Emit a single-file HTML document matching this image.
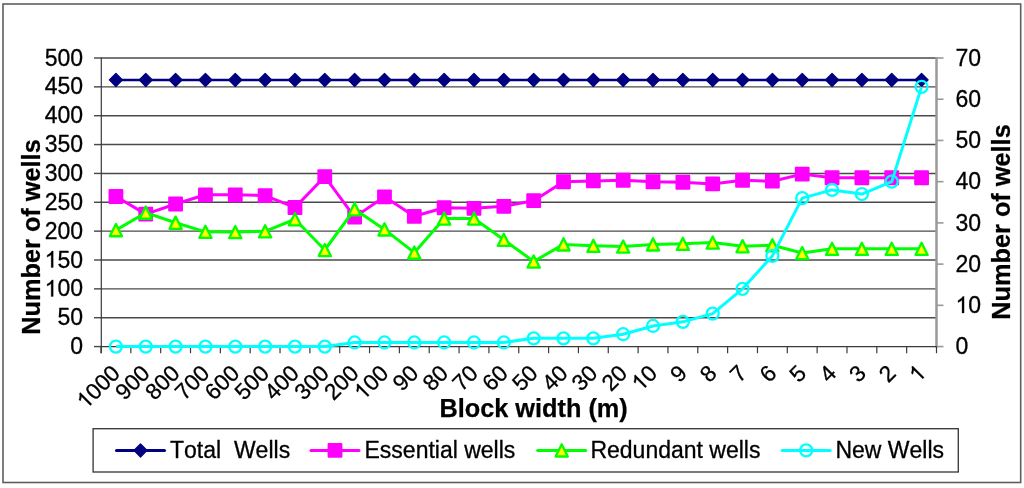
<!DOCTYPE html><html><head><meta charset="utf-8"><style>html,body{margin:0;padding:0;background:#fff;}svg{display:block;will-change:transform}text{font-family:"Liberation Sans",sans-serif;font-kerning:none}</style></head><body>
<svg width="1024" height="488" viewBox="0 0 1024 488">
<rect x="3" y="4" width="1017.7" height="478.5" fill="#fff" stroke="#5e5e5e" stroke-width="1.6"/>
<line x1="94" y1="346.57" x2="101.00" y2="346.57" stroke="#4a4a4a" stroke-width="1.45"/>
<text x="70.21" y="354.17" font-size="23" fill="#000" stroke="#000" stroke-width="0.3">0</text>
<line x1="101.00" y1="317.71" x2="936.50" y2="317.71" stroke="#4a4a4a" stroke-width="1.45"/>
<line x1="94" y1="317.71" x2="101.00" y2="317.71" stroke="#4a4a4a" stroke-width="1.45"/>
<text x="57.42" y="325.31" font-size="23" fill="#000" stroke="#000" stroke-width="0.3">50</text>
<line x1="101.00" y1="288.86" x2="936.50" y2="288.86" stroke="#4a4a4a" stroke-width="1.45"/>
<line x1="94" y1="288.86" x2="101.00" y2="288.86" stroke="#4a4a4a" stroke-width="1.45"/>
<text x="44.63" y="296.46" font-size="23" fill="#000" stroke="#000" stroke-width="0.3">&#8199;00</text><path transform="translate(44.63,296.46) scale(0.01123,-0.01123)" d="M763 0H583V1147Q518 1085 412 1023T223 930V1104Q374 1175 487 1276T647 1472H763V0Z" fill="#000" stroke="#000" stroke-width="26.7"/>
<line x1="101.00" y1="260.00" x2="936.50" y2="260.00" stroke="#4a4a4a" stroke-width="1.45"/>
<line x1="94" y1="260.00" x2="101.00" y2="260.00" stroke="#4a4a4a" stroke-width="1.45"/>
<text x="44.63" y="267.60" font-size="23" fill="#000" stroke="#000" stroke-width="0.3">&#8199;50</text><path transform="translate(44.63,267.60) scale(0.01123,-0.01123)" d="M763 0H583V1147Q518 1085 412 1023T223 930V1104Q374 1175 487 1276T647 1472H763V0Z" fill="#000" stroke="#000" stroke-width="26.7"/>
<line x1="101.00" y1="231.14" x2="936.50" y2="231.14" stroke="#4a4a4a" stroke-width="1.45"/>
<line x1="94" y1="231.14" x2="101.00" y2="231.14" stroke="#4a4a4a" stroke-width="1.45"/>
<text x="44.63" y="238.74" font-size="23" fill="#000" stroke="#000" stroke-width="0.3">200</text>
<line x1="101.00" y1="202.28" x2="936.50" y2="202.28" stroke="#4a4a4a" stroke-width="1.45"/>
<line x1="94" y1="202.28" x2="101.00" y2="202.28" stroke="#4a4a4a" stroke-width="1.45"/>
<text x="44.63" y="209.88" font-size="23" fill="#000" stroke="#000" stroke-width="0.3">250</text>
<line x1="101.00" y1="173.43" x2="936.50" y2="173.43" stroke="#4a4a4a" stroke-width="1.45"/>
<line x1="94" y1="173.43" x2="101.00" y2="173.43" stroke="#4a4a4a" stroke-width="1.45"/>
<text x="44.63" y="181.03" font-size="23" fill="#000" stroke="#000" stroke-width="0.3">300</text>
<line x1="101.00" y1="144.57" x2="936.50" y2="144.57" stroke="#4a4a4a" stroke-width="1.45"/>
<line x1="94" y1="144.57" x2="101.00" y2="144.57" stroke="#4a4a4a" stroke-width="1.45"/>
<text x="44.63" y="152.17" font-size="23" fill="#000" stroke="#000" stroke-width="0.3">350</text>
<line x1="101.00" y1="115.71" x2="936.50" y2="115.71" stroke="#4a4a4a" stroke-width="1.45"/>
<line x1="94" y1="115.71" x2="101.00" y2="115.71" stroke="#4a4a4a" stroke-width="1.45"/>
<text x="44.63" y="123.31" font-size="23" fill="#000" stroke="#000" stroke-width="0.3">400</text>
<line x1="101.00" y1="86.86" x2="936.50" y2="86.86" stroke="#4a4a4a" stroke-width="1.45"/>
<line x1="94" y1="86.86" x2="101.00" y2="86.86" stroke="#4a4a4a" stroke-width="1.45"/>
<text x="44.63" y="94.46" font-size="23" fill="#000" stroke="#000" stroke-width="0.3">450</text>
<line x1="101.00" y1="58.00" x2="936.50" y2="58.00" stroke="#4a4a4a" stroke-width="1.45"/>
<line x1="94" y1="58.00" x2="101.00" y2="58.00" stroke="#4a4a4a" stroke-width="1.45"/>
<text x="44.63" y="65.60" font-size="23" fill="#000" stroke="#000" stroke-width="0.3">500</text>
<line x1="936.50" y1="57.00" x2="936.50" y2="347.57" stroke="#9a9a9a" stroke-width="2.5"/>
<line x1="936.50" y1="346.57" x2="943.5" y2="346.57" stroke="#999" stroke-width="1.6"/>
<text x="955.50" y="354.17" font-size="23" fill="#000" stroke="#000" stroke-width="0.3">0</text>
<line x1="936.50" y1="305.35" x2="943.5" y2="305.35" stroke="#999" stroke-width="1.6"/>
<text x="955.50" y="312.95" font-size="23" fill="#000" stroke="#000" stroke-width="0.3">&#8199;0</text><path transform="translate(955.50,312.95) scale(0.01123,-0.01123)" d="M763 0H583V1147Q518 1085 412 1023T223 930V1104Q374 1175 487 1276T647 1472H763V0Z" fill="#000" stroke="#000" stroke-width="26.7"/>
<line x1="936.50" y1="264.12" x2="943.5" y2="264.12" stroke="#999" stroke-width="1.6"/>
<text x="955.50" y="271.72" font-size="23" fill="#000" stroke="#000" stroke-width="0.3">20</text>
<line x1="936.50" y1="222.90" x2="943.5" y2="222.90" stroke="#999" stroke-width="1.6"/>
<text x="955.50" y="230.50" font-size="23" fill="#000" stroke="#000" stroke-width="0.3">30</text>
<line x1="936.50" y1="181.67" x2="943.5" y2="181.67" stroke="#999" stroke-width="1.6"/>
<text x="955.50" y="189.27" font-size="23" fill="#000" stroke="#000" stroke-width="0.3">40</text>
<line x1="936.50" y1="140.45" x2="943.5" y2="140.45" stroke="#999" stroke-width="1.6"/>
<text x="955.50" y="148.05" font-size="23" fill="#000" stroke="#000" stroke-width="0.3">50</text>
<line x1="936.50" y1="99.22" x2="943.5" y2="99.22" stroke="#999" stroke-width="1.6"/>
<text x="955.50" y="106.82" font-size="23" fill="#000" stroke="#000" stroke-width="0.3">60</text>
<line x1="936.50" y1="58.00" x2="943.5" y2="58.00" stroke="#999" stroke-width="1.6"/>
<text x="955.50" y="65.60" font-size="23" fill="#000" stroke="#000" stroke-width="0.3">70</text>
<line x1="101.3" y1="57.4" x2="101.3" y2="353.2" stroke="#3a3a3a" stroke-width="1.2"/>
<line x1="101" y1="346.57" x2="936.50" y2="346.57" stroke="#3a3a3a" stroke-width="1.2"/>
<line x1="101.00" y1="346.57" x2="101.00" y2="353.2" stroke="#3a3a3a" stroke-width="1.2"/>
<line x1="130.84" y1="346.57" x2="130.84" y2="353.2" stroke="#3a3a3a" stroke-width="1.2"/>
<line x1="160.68" y1="346.57" x2="160.68" y2="353.2" stroke="#3a3a3a" stroke-width="1.2"/>
<line x1="190.52" y1="346.57" x2="190.52" y2="353.2" stroke="#3a3a3a" stroke-width="1.2"/>
<line x1="220.36" y1="346.57" x2="220.36" y2="353.2" stroke="#3a3a3a" stroke-width="1.2"/>
<line x1="250.20" y1="346.57" x2="250.20" y2="353.2" stroke="#3a3a3a" stroke-width="1.2"/>
<line x1="280.04" y1="346.57" x2="280.04" y2="353.2" stroke="#3a3a3a" stroke-width="1.2"/>
<line x1="309.88" y1="346.57" x2="309.88" y2="353.2" stroke="#3a3a3a" stroke-width="1.2"/>
<line x1="339.71" y1="346.57" x2="339.71" y2="353.2" stroke="#3a3a3a" stroke-width="1.2"/>
<line x1="369.55" y1="346.57" x2="369.55" y2="353.2" stroke="#3a3a3a" stroke-width="1.2"/>
<line x1="399.39" y1="346.57" x2="399.39" y2="353.2" stroke="#3a3a3a" stroke-width="1.2"/>
<line x1="429.23" y1="346.57" x2="429.23" y2="353.2" stroke="#3a3a3a" stroke-width="1.2"/>
<line x1="459.07" y1="346.57" x2="459.07" y2="353.2" stroke="#3a3a3a" stroke-width="1.2"/>
<line x1="488.91" y1="346.57" x2="488.91" y2="353.2" stroke="#3a3a3a" stroke-width="1.2"/>
<line x1="518.75" y1="346.57" x2="518.75" y2="353.2" stroke="#3a3a3a" stroke-width="1.2"/>
<line x1="548.59" y1="346.57" x2="548.59" y2="353.2" stroke="#3a3a3a" stroke-width="1.2"/>
<line x1="578.43" y1="346.57" x2="578.43" y2="353.2" stroke="#3a3a3a" stroke-width="1.2"/>
<line x1="608.27" y1="346.57" x2="608.27" y2="353.2" stroke="#3a3a3a" stroke-width="1.2"/>
<line x1="638.11" y1="346.57" x2="638.11" y2="353.2" stroke="#3a3a3a" stroke-width="1.2"/>
<line x1="667.95" y1="346.57" x2="667.95" y2="353.2" stroke="#3a3a3a" stroke-width="1.2"/>
<line x1="697.79" y1="346.57" x2="697.79" y2="353.2" stroke="#3a3a3a" stroke-width="1.2"/>
<line x1="727.62" y1="346.57" x2="727.62" y2="353.2" stroke="#3a3a3a" stroke-width="1.2"/>
<line x1="757.46" y1="346.57" x2="757.46" y2="353.2" stroke="#3a3a3a" stroke-width="1.2"/>
<line x1="787.30" y1="346.57" x2="787.30" y2="353.2" stroke="#3a3a3a" stroke-width="1.2"/>
<line x1="817.14" y1="346.57" x2="817.14" y2="353.2" stroke="#3a3a3a" stroke-width="1.2"/>
<line x1="846.98" y1="346.57" x2="846.98" y2="353.2" stroke="#3a3a3a" stroke-width="1.2"/>
<line x1="876.82" y1="346.57" x2="876.82" y2="353.2" stroke="#3a3a3a" stroke-width="1.2"/>
<line x1="906.66" y1="346.57" x2="906.66" y2="353.2" stroke="#3a3a3a" stroke-width="1.2"/>
<line x1="936.50" y1="346.57" x2="936.50" y2="353.2" stroke="#3a3a3a" stroke-width="1.2"/>
<g transform="translate(121.42,374.50) rotate(-45)"><text x="-50.28" y="0.00" font-size="22.6" fill="#000" stroke="#000" stroke-width="0.3">&#8199;000</text><path transform="translate(-50.28,0.00) scale(0.01104,-0.01104)" d="M763 0H583V1147Q518 1085 412 1023T223 930V1104Q374 1175 487 1276T647 1472H763V0Z" fill="#000" stroke="#000" stroke-width="27.2"/></g>
<g transform="translate(151.26,374.50) rotate(-45)"><text x="-37.71" y="0.00" font-size="22.6" fill="#000" stroke="#000" stroke-width="0.3">900</text></g>
<g transform="translate(181.10,374.50) rotate(-45)"><text x="-37.71" y="0.00" font-size="22.6" fill="#000" stroke="#000" stroke-width="0.3">800</text></g>
<g transform="translate(210.94,374.50) rotate(-45)"><text x="-37.71" y="0.00" font-size="22.6" fill="#000" stroke="#000" stroke-width="0.3">700</text></g>
<g transform="translate(240.78,374.50) rotate(-45)"><text x="-37.71" y="0.00" font-size="22.6" fill="#000" stroke="#000" stroke-width="0.3">600</text></g>
<g transform="translate(270.62,374.50) rotate(-45)"><text x="-37.71" y="0.00" font-size="22.6" fill="#000" stroke="#000" stroke-width="0.3">500</text></g>
<g transform="translate(300.46,374.50) rotate(-45)"><text x="-37.71" y="0.00" font-size="22.6" fill="#000" stroke="#000" stroke-width="0.3">400</text></g>
<g transform="translate(330.29,374.50) rotate(-45)"><text x="-37.71" y="0.00" font-size="22.6" fill="#000" stroke="#000" stroke-width="0.3">300</text></g>
<g transform="translate(360.13,374.50) rotate(-45)"><text x="-37.71" y="0.00" font-size="22.6" fill="#000" stroke="#000" stroke-width="0.3">200</text></g>
<g transform="translate(389.97,374.50) rotate(-45)"><text x="-37.71" y="0.00" font-size="22.6" fill="#000" stroke="#000" stroke-width="0.3">&#8199;00</text><path transform="translate(-37.71,0.00) scale(0.01104,-0.01104)" d="M763 0H583V1147Q518 1085 412 1023T223 930V1104Q374 1175 487 1276T647 1472H763V0Z" fill="#000" stroke="#000" stroke-width="27.2"/></g>
<g transform="translate(419.81,374.50) rotate(-45)"><text x="-25.14" y="0.00" font-size="22.6" fill="#000" stroke="#000" stroke-width="0.3">90</text></g>
<g transform="translate(449.65,374.50) rotate(-45)"><text x="-25.14" y="0.00" font-size="22.6" fill="#000" stroke="#000" stroke-width="0.3">80</text></g>
<g transform="translate(479.49,374.50) rotate(-45)"><text x="-25.14" y="0.00" font-size="22.6" fill="#000" stroke="#000" stroke-width="0.3">70</text></g>
<g transform="translate(509.33,374.50) rotate(-45)"><text x="-25.14" y="0.00" font-size="22.6" fill="#000" stroke="#000" stroke-width="0.3">60</text></g>
<g transform="translate(539.17,374.50) rotate(-45)"><text x="-25.14" y="0.00" font-size="22.6" fill="#000" stroke="#000" stroke-width="0.3">50</text></g>
<g transform="translate(569.01,374.50) rotate(-45)"><text x="-25.14" y="0.00" font-size="22.6" fill="#000" stroke="#000" stroke-width="0.3">40</text></g>
<g transform="translate(598.85,374.50) rotate(-45)"><text x="-25.14" y="0.00" font-size="22.6" fill="#000" stroke="#000" stroke-width="0.3">30</text></g>
<g transform="translate(628.69,374.50) rotate(-45)"><text x="-25.14" y="0.00" font-size="22.6" fill="#000" stroke="#000" stroke-width="0.3">20</text></g>
<g transform="translate(658.53,374.50) rotate(-45)"><text x="-25.14" y="0.00" font-size="22.6" fill="#000" stroke="#000" stroke-width="0.3">&#8199;0</text><path transform="translate(-25.14,0.00) scale(0.01104,-0.01104)" d="M763 0H583V1147Q518 1085 412 1023T223 930V1104Q374 1175 487 1276T647 1472H763V0Z" fill="#000" stroke="#000" stroke-width="27.2"/></g>
<g transform="translate(688.37,374.50) rotate(-45)"><text x="-12.57" y="0.00" font-size="22.6" fill="#000" stroke="#000" stroke-width="0.3">9</text></g>
<g transform="translate(718.21,374.50) rotate(-45)"><text x="-12.57" y="0.00" font-size="22.6" fill="#000" stroke="#000" stroke-width="0.3">8</text></g>
<g transform="translate(748.04,374.50) rotate(-45)"><text x="-12.57" y="0.00" font-size="22.6" fill="#000" stroke="#000" stroke-width="0.3">7</text></g>
<g transform="translate(777.88,374.50) rotate(-45)"><text x="-12.57" y="0.00" font-size="22.6" fill="#000" stroke="#000" stroke-width="0.3">6</text></g>
<g transform="translate(807.72,374.50) rotate(-45)"><text x="-12.57" y="0.00" font-size="22.6" fill="#000" stroke="#000" stroke-width="0.3">5</text></g>
<g transform="translate(837.56,374.50) rotate(-45)"><text x="-12.57" y="0.00" font-size="22.6" fill="#000" stroke="#000" stroke-width="0.3">4</text></g>
<g transform="translate(867.40,374.50) rotate(-45)"><text x="-12.57" y="0.00" font-size="22.6" fill="#000" stroke="#000" stroke-width="0.3">3</text></g>
<g transform="translate(897.24,374.50) rotate(-45)"><text x="-12.57" y="0.00" font-size="22.6" fill="#000" stroke="#000" stroke-width="0.3">2</text></g>
<g transform="translate(927.08,374.50) rotate(-45)"><text x="-12.57" y="0.00" font-size="22.6" fill="#000" stroke="#000" stroke-width="0.3">&#8199;</text><path transform="translate(-12.57,0.00) scale(0.01104,-0.01104)" d="M763 0H583V1147Q518 1085 412 1023T223 930V1104Q374 1175 487 1276T647 1472H763V0Z" fill="#000" stroke="#000" stroke-width="27.2"/></g>
<text transform="translate(39.5,237) rotate(-90)" font-size="25.3" font-weight="bold" text-anchor="middle" fill="#000" stroke="#000" stroke-width="0.25">Number of wells</text>
<text transform="translate(1010,222) rotate(-90)" font-size="25.3" font-weight="bold" text-anchor="middle" fill="#000" stroke="#000" stroke-width="0.25">Number of wells</text>
<text x="533.6" y="416.6" font-size="25.3" font-weight="bold" text-anchor="middle" fill="#000" stroke="#000" stroke-width="0.25">Block width (m)</text>
<polyline points="115.92,79.93 145.76,79.93 175.60,79.93 205.44,79.93 235.28,79.93 265.12,79.93 294.96,79.93 324.79,79.93 354.63,79.93 384.47,79.93 414.31,79.93 444.15,79.93 473.99,79.93 503.83,79.93 533.67,79.93 563.51,79.93 593.35,79.93 623.19,79.93 653.03,79.93 682.87,79.93 712.71,79.93 742.54,79.93 772.38,79.93 802.22,79.93 832.06,79.93 861.90,79.93 891.74,79.93 921.58,79.93" fill="none" stroke="#000080" stroke-width="2.6" stroke-linejoin="round"/>
<path d="M115.92 73.33L122.52 79.93L115.92 86.53L109.32 79.93Z" fill="#000080" stroke="#000080" stroke-width="1.2" stroke-linejoin="round"/>
<path d="M145.76 73.33L152.36 79.93L145.76 86.53L139.16 79.93Z" fill="#000080" stroke="#000080" stroke-width="1.2" stroke-linejoin="round"/>
<path d="M175.60 73.33L182.20 79.93L175.60 86.53L169.00 79.93Z" fill="#000080" stroke="#000080" stroke-width="1.2" stroke-linejoin="round"/>
<path d="M205.44 73.33L212.04 79.93L205.44 86.53L198.84 79.93Z" fill="#000080" stroke="#000080" stroke-width="1.2" stroke-linejoin="round"/>
<path d="M235.28 73.33L241.88 79.93L235.28 86.53L228.68 79.93Z" fill="#000080" stroke="#000080" stroke-width="1.2" stroke-linejoin="round"/>
<path d="M265.12 73.33L271.72 79.93L265.12 86.53L258.52 79.93Z" fill="#000080" stroke="#000080" stroke-width="1.2" stroke-linejoin="round"/>
<path d="M294.96 73.33L301.56 79.93L294.96 86.53L288.36 79.93Z" fill="#000080" stroke="#000080" stroke-width="1.2" stroke-linejoin="round"/>
<path d="M324.79 73.33L331.39 79.93L324.79 86.53L318.19 79.93Z" fill="#000080" stroke="#000080" stroke-width="1.2" stroke-linejoin="round"/>
<path d="M354.63 73.33L361.23 79.93L354.63 86.53L348.03 79.93Z" fill="#000080" stroke="#000080" stroke-width="1.2" stroke-linejoin="round"/>
<path d="M384.47 73.33L391.07 79.93L384.47 86.53L377.87 79.93Z" fill="#000080" stroke="#000080" stroke-width="1.2" stroke-linejoin="round"/>
<path d="M414.31 73.33L420.91 79.93L414.31 86.53L407.71 79.93Z" fill="#000080" stroke="#000080" stroke-width="1.2" stroke-linejoin="round"/>
<path d="M444.15 73.33L450.75 79.93L444.15 86.53L437.55 79.93Z" fill="#000080" stroke="#000080" stroke-width="1.2" stroke-linejoin="round"/>
<path d="M473.99 73.33L480.59 79.93L473.99 86.53L467.39 79.93Z" fill="#000080" stroke="#000080" stroke-width="1.2" stroke-linejoin="round"/>
<path d="M503.83 73.33L510.43 79.93L503.83 86.53L497.23 79.93Z" fill="#000080" stroke="#000080" stroke-width="1.2" stroke-linejoin="round"/>
<path d="M533.67 73.33L540.27 79.93L533.67 86.53L527.07 79.93Z" fill="#000080" stroke="#000080" stroke-width="1.2" stroke-linejoin="round"/>
<path d="M563.51 73.33L570.11 79.93L563.51 86.53L556.91 79.93Z" fill="#000080" stroke="#000080" stroke-width="1.2" stroke-linejoin="round"/>
<path d="M593.35 73.33L599.95 79.93L593.35 86.53L586.75 79.93Z" fill="#000080" stroke="#000080" stroke-width="1.2" stroke-linejoin="round"/>
<path d="M623.19 73.33L629.79 79.93L623.19 86.53L616.59 79.93Z" fill="#000080" stroke="#000080" stroke-width="1.2" stroke-linejoin="round"/>
<path d="M653.03 73.33L659.63 79.93L653.03 86.53L646.43 79.93Z" fill="#000080" stroke="#000080" stroke-width="1.2" stroke-linejoin="round"/>
<path d="M682.87 73.33L689.47 79.93L682.87 86.53L676.27 79.93Z" fill="#000080" stroke="#000080" stroke-width="1.2" stroke-linejoin="round"/>
<path d="M712.71 73.33L719.31 79.93L712.71 86.53L706.11 79.93Z" fill="#000080" stroke="#000080" stroke-width="1.2" stroke-linejoin="round"/>
<path d="M742.54 73.33L749.14 79.93L742.54 86.53L735.94 79.93Z" fill="#000080" stroke="#000080" stroke-width="1.2" stroke-linejoin="round"/>
<path d="M772.38 73.33L778.98 79.93L772.38 86.53L765.78 79.93Z" fill="#000080" stroke="#000080" stroke-width="1.2" stroke-linejoin="round"/>
<path d="M802.22 73.33L808.82 79.93L802.22 86.53L795.62 79.93Z" fill="#000080" stroke="#000080" stroke-width="1.2" stroke-linejoin="round"/>
<path d="M832.06 73.33L838.66 79.93L832.06 86.53L825.46 79.93Z" fill="#000080" stroke="#000080" stroke-width="1.2" stroke-linejoin="round"/>
<path d="M861.90 73.33L868.50 79.93L861.90 86.53L855.30 79.93Z" fill="#000080" stroke="#000080" stroke-width="1.2" stroke-linejoin="round"/>
<path d="M891.74 73.33L898.34 79.93L891.74 86.53L885.14 79.93Z" fill="#000080" stroke="#000080" stroke-width="1.2" stroke-linejoin="round"/>
<path d="M921.58 73.33L928.18 79.93L921.58 86.53L914.98 79.93Z" fill="#000080" stroke="#000080" stroke-width="1.2" stroke-linejoin="round"/>
<polyline points="115.92,196.51 145.76,214.12 175.60,204.02 205.44,194.78 235.28,194.78 265.12,195.59 294.96,207.48 324.79,176.66 354.63,217.12 384.47,196.80 414.31,216.31 444.15,207.77 473.99,208.34 503.83,206.32 533.67,200.67 563.51,181.74 593.35,180.93 623.19,180.24 653.03,181.74 682.87,182.26 712.71,183.93 742.54,180.24 772.38,181.22 802.22,174.12 832.06,177.76 861.90,177.76 891.74,177.76 921.58,177.76" fill="none" stroke="#ff00ff" stroke-width="3" stroke-linejoin="round"/>
<rect x="108.52" y="189.11" width="14.80" height="14.80" rx="1" fill="#ff00ff"/>
<rect x="138.36" y="206.72" width="14.80" height="14.80" rx="1" fill="#ff00ff"/>
<rect x="168.20" y="196.62" width="14.80" height="14.80" rx="1" fill="#ff00ff"/>
<rect x="198.04" y="187.38" width="14.80" height="14.80" rx="1" fill="#ff00ff"/>
<rect x="227.88" y="187.38" width="14.80" height="14.80" rx="1" fill="#ff00ff"/>
<rect x="257.72" y="188.19" width="14.80" height="14.80" rx="1" fill="#ff00ff"/>
<rect x="287.56" y="200.08" width="14.80" height="14.80" rx="1" fill="#ff00ff"/>
<rect x="317.39" y="169.26" width="14.80" height="14.80" rx="1" fill="#ff00ff"/>
<rect x="347.23" y="209.72" width="14.80" height="14.80" rx="1" fill="#ff00ff"/>
<rect x="377.07" y="189.40" width="14.80" height="14.80" rx="1" fill="#ff00ff"/>
<rect x="406.91" y="208.91" width="14.80" height="14.80" rx="1" fill="#ff00ff"/>
<rect x="436.75" y="200.37" width="14.80" height="14.80" rx="1" fill="#ff00ff"/>
<rect x="466.59" y="200.94" width="14.80" height="14.80" rx="1" fill="#ff00ff"/>
<rect x="496.43" y="198.92" width="14.80" height="14.80" rx="1" fill="#ff00ff"/>
<rect x="526.27" y="193.27" width="14.80" height="14.80" rx="1" fill="#ff00ff"/>
<rect x="556.11" y="174.34" width="14.80" height="14.80" rx="1" fill="#ff00ff"/>
<rect x="585.95" y="173.53" width="14.80" height="14.80" rx="1" fill="#ff00ff"/>
<rect x="615.79" y="172.84" width="14.80" height="14.80" rx="1" fill="#ff00ff"/>
<rect x="645.63" y="174.34" width="14.80" height="14.80" rx="1" fill="#ff00ff"/>
<rect x="675.47" y="174.86" width="14.80" height="14.80" rx="1" fill="#ff00ff"/>
<rect x="705.31" y="176.53" width="14.80" height="14.80" rx="1" fill="#ff00ff"/>
<rect x="735.14" y="172.84" width="14.80" height="14.80" rx="1" fill="#ff00ff"/>
<rect x="764.98" y="173.82" width="14.80" height="14.80" rx="1" fill="#ff00ff"/>
<rect x="794.82" y="166.72" width="14.80" height="14.80" rx="1" fill="#ff00ff"/>
<rect x="824.66" y="170.36" width="14.80" height="14.80" rx="1" fill="#ff00ff"/>
<rect x="854.50" y="170.36" width="14.80" height="14.80" rx="1" fill="#ff00ff"/>
<rect x="884.34" y="170.36" width="14.80" height="14.80" rx="1" fill="#ff00ff"/>
<rect x="914.18" y="170.36" width="14.80" height="14.80" rx="1" fill="#ff00ff"/>
<polyline points="115.92,230.16 145.76,212.67 175.60,222.72 205.44,231.83 235.28,232.12 265.12,231.32 294.96,219.25 324.79,250.01 354.63,209.21 384.47,229.41 414.31,252.67 444.15,218.50 473.99,218.50 503.83,239.80 533.67,261.50 563.51,244.42 593.35,245.86 623.19,246.55 653.03,244.42 682.87,243.84 712.71,242.57 742.54,246.21 772.38,245.28 802.22,253.07 832.06,248.80 861.90,248.80 891.74,248.80 921.58,248.80" fill="none" stroke="#00ff00" stroke-width="3" stroke-linejoin="round"/>
<path d="M115.92 224.06L122.02 236.26L109.82 236.26Z" fill="#ffff00" stroke="#00ff00" stroke-width="2.3" stroke-linejoin="round"/>
<path d="M145.76 206.57L151.86 218.77L139.66 218.77Z" fill="#ffff00" stroke="#00ff00" stroke-width="2.3" stroke-linejoin="round"/>
<path d="M175.60 216.62L181.70 228.82L169.50 228.82Z" fill="#ffff00" stroke="#00ff00" stroke-width="2.3" stroke-linejoin="round"/>
<path d="M205.44 225.73L211.54 237.93L199.34 237.93Z" fill="#ffff00" stroke="#00ff00" stroke-width="2.3" stroke-linejoin="round"/>
<path d="M235.28 226.02L241.38 238.22L229.18 238.22Z" fill="#ffff00" stroke="#00ff00" stroke-width="2.3" stroke-linejoin="round"/>
<path d="M265.12 225.22L271.22 237.42L259.02 237.42Z" fill="#ffff00" stroke="#00ff00" stroke-width="2.3" stroke-linejoin="round"/>
<path d="M294.96 213.15L301.06 225.35L288.86 225.35Z" fill="#ffff00" stroke="#00ff00" stroke-width="2.3" stroke-linejoin="round"/>
<path d="M324.79 243.91L330.89 256.11L318.69 256.11Z" fill="#ffff00" stroke="#00ff00" stroke-width="2.3" stroke-linejoin="round"/>
<path d="M354.63 203.11L360.73 215.31L348.53 215.31Z" fill="#ffff00" stroke="#00ff00" stroke-width="2.3" stroke-linejoin="round"/>
<path d="M384.47 223.31L390.57 235.51L378.37 235.51Z" fill="#ffff00" stroke="#00ff00" stroke-width="2.3" stroke-linejoin="round"/>
<path d="M414.31 246.57L420.41 258.77L408.21 258.77Z" fill="#ffff00" stroke="#00ff00" stroke-width="2.3" stroke-linejoin="round"/>
<path d="M444.15 212.40L450.25 224.60L438.05 224.60Z" fill="#ffff00" stroke="#00ff00" stroke-width="2.3" stroke-linejoin="round"/>
<path d="M473.99 212.40L480.09 224.60L467.89 224.60Z" fill="#ffff00" stroke="#00ff00" stroke-width="2.3" stroke-linejoin="round"/>
<path d="M503.83 233.70L509.93 245.90L497.73 245.90Z" fill="#ffff00" stroke="#00ff00" stroke-width="2.3" stroke-linejoin="round"/>
<path d="M533.67 255.40L539.77 267.60L527.57 267.60Z" fill="#ffff00" stroke="#00ff00" stroke-width="2.3" stroke-linejoin="round"/>
<path d="M563.51 238.32L569.61 250.52L557.41 250.52Z" fill="#ffff00" stroke="#00ff00" stroke-width="2.3" stroke-linejoin="round"/>
<path d="M593.35 239.76L599.45 251.96L587.25 251.96Z" fill="#ffff00" stroke="#00ff00" stroke-width="2.3" stroke-linejoin="round"/>
<path d="M623.19 240.45L629.29 252.65L617.09 252.65Z" fill="#ffff00" stroke="#00ff00" stroke-width="2.3" stroke-linejoin="round"/>
<path d="M653.03 238.32L659.13 250.52L646.93 250.52Z" fill="#ffff00" stroke="#00ff00" stroke-width="2.3" stroke-linejoin="round"/>
<path d="M682.87 237.74L688.97 249.94L676.77 249.94Z" fill="#ffff00" stroke="#00ff00" stroke-width="2.3" stroke-linejoin="round"/>
<path d="M712.71 236.47L718.81 248.67L706.61 248.67Z" fill="#ffff00" stroke="#00ff00" stroke-width="2.3" stroke-linejoin="round"/>
<path d="M742.54 240.11L748.64 252.31L736.44 252.31Z" fill="#ffff00" stroke="#00ff00" stroke-width="2.3" stroke-linejoin="round"/>
<path d="M772.38 239.18L778.48 251.38L766.28 251.38Z" fill="#ffff00" stroke="#00ff00" stroke-width="2.3" stroke-linejoin="round"/>
<path d="M802.22 246.97L808.32 259.17L796.12 259.17Z" fill="#ffff00" stroke="#00ff00" stroke-width="2.3" stroke-linejoin="round"/>
<path d="M832.06 242.70L838.16 254.90L825.96 254.90Z" fill="#ffff00" stroke="#00ff00" stroke-width="2.3" stroke-linejoin="round"/>
<path d="M861.90 242.70L868.00 254.90L855.80 254.90Z" fill="#ffff00" stroke="#00ff00" stroke-width="2.3" stroke-linejoin="round"/>
<path d="M891.74 242.70L897.84 254.90L885.64 254.90Z" fill="#ffff00" stroke="#00ff00" stroke-width="2.3" stroke-linejoin="round"/>
<path d="M921.58 242.70L927.68 254.90L915.48 254.90Z" fill="#ffff00" stroke="#00ff00" stroke-width="2.3" stroke-linejoin="round"/>
<polyline points="115.92,346.57 145.76,346.57 175.60,346.57 205.44,346.57 235.28,346.57 265.12,346.57 294.96,346.57 324.79,346.57 354.63,342.45 384.47,342.45 414.31,342.45 444.15,342.45 473.99,342.45 503.83,342.45 533.67,338.33 563.51,338.33 593.35,338.33 623.19,334.20 653.03,325.96 682.87,321.84 712.71,313.59 742.54,288.86 772.38,255.88 802.22,198.16 832.06,189.92 861.90,194.04 891.74,181.67 921.58,86.86" fill="none" stroke="#00ffff" stroke-width="3" stroke-linejoin="round"/>
<circle cx="115.92" cy="346.57" r="6.00" fill="none" stroke="#00ffff" stroke-width="2.3"/>
<circle cx="145.76" cy="346.57" r="6.00" fill="none" stroke="#00ffff" stroke-width="2.3"/>
<circle cx="175.60" cy="346.57" r="6.00" fill="none" stroke="#00ffff" stroke-width="2.3"/>
<circle cx="205.44" cy="346.57" r="6.00" fill="none" stroke="#00ffff" stroke-width="2.3"/>
<circle cx="235.28" cy="346.57" r="6.00" fill="none" stroke="#00ffff" stroke-width="2.3"/>
<circle cx="265.12" cy="346.57" r="6.00" fill="none" stroke="#00ffff" stroke-width="2.3"/>
<circle cx="294.96" cy="346.57" r="6.00" fill="none" stroke="#00ffff" stroke-width="2.3"/>
<circle cx="324.79" cy="346.57" r="6.00" fill="none" stroke="#00ffff" stroke-width="2.3"/>
<circle cx="354.63" cy="342.45" r="6.00" fill="none" stroke="#00ffff" stroke-width="2.3"/>
<circle cx="384.47" cy="342.45" r="6.00" fill="none" stroke="#00ffff" stroke-width="2.3"/>
<circle cx="414.31" cy="342.45" r="6.00" fill="none" stroke="#00ffff" stroke-width="2.3"/>
<circle cx="444.15" cy="342.45" r="6.00" fill="none" stroke="#00ffff" stroke-width="2.3"/>
<circle cx="473.99" cy="342.45" r="6.00" fill="none" stroke="#00ffff" stroke-width="2.3"/>
<circle cx="503.83" cy="342.45" r="6.00" fill="none" stroke="#00ffff" stroke-width="2.3"/>
<circle cx="533.67" cy="338.33" r="6.00" fill="none" stroke="#00ffff" stroke-width="2.3"/>
<circle cx="563.51" cy="338.33" r="6.00" fill="none" stroke="#00ffff" stroke-width="2.3"/>
<circle cx="593.35" cy="338.33" r="6.00" fill="none" stroke="#00ffff" stroke-width="2.3"/>
<circle cx="623.19" cy="334.20" r="6.00" fill="none" stroke="#00ffff" stroke-width="2.3"/>
<circle cx="653.03" cy="325.96" r="6.00" fill="none" stroke="#00ffff" stroke-width="2.3"/>
<circle cx="682.87" cy="321.84" r="6.00" fill="none" stroke="#00ffff" stroke-width="2.3"/>
<circle cx="712.71" cy="313.59" r="6.00" fill="none" stroke="#00ffff" stroke-width="2.3"/>
<circle cx="742.54" cy="288.86" r="6.00" fill="none" stroke="#00ffff" stroke-width="2.3"/>
<circle cx="772.38" cy="255.88" r="6.00" fill="none" stroke="#00ffff" stroke-width="2.3"/>
<circle cx="802.22" cy="198.16" r="6.00" fill="none" stroke="#00ffff" stroke-width="2.3"/>
<circle cx="832.06" cy="189.92" r="6.00" fill="none" stroke="#00ffff" stroke-width="2.3"/>
<circle cx="861.90" cy="194.04" r="6.00" fill="none" stroke="#00ffff" stroke-width="2.3"/>
<circle cx="891.74" cy="181.67" r="6.00" fill="none" stroke="#00ffff" stroke-width="2.3"/>
<circle cx="921.58" cy="86.86" r="6.00" fill="none" stroke="#00ffff" stroke-width="2.3"/>
<rect x="93.1" y="428.7" width="865.2" height="43.3" fill="#fff" stroke="#3a3a3a" stroke-width="1.35"/>
<line x1="116.50" y1="450.40" x2="164.50" y2="450.40" stroke="#000080" stroke-width="3" stroke-linecap="round"/>
<path d="M140.50 443.80L147.10 450.40L140.50 457.00L133.90 450.40Z" fill="#000080" stroke="#000080" stroke-width="1.2" stroke-linejoin="round"/>
<text x="170.00" y="458.1" font-size="23" fill="#000" stroke="#000" stroke-width="0.3">Total&#160; Wells</text>
<line x1="311.00" y1="450.40" x2="359.00" y2="450.40" stroke="#ff00ff" stroke-width="3" stroke-linecap="round"/>
<rect x="327.60" y="443.00" width="14.80" height="14.80" rx="1" fill="#ff00ff"/>
<text x="364.50" y="458.1" font-size="23" fill="#000" stroke="#000" stroke-width="0.3">Essential wells</text>
<line x1="537.70" y1="450.40" x2="585.70" y2="450.40" stroke="#00ff00" stroke-width="3" stroke-linecap="round"/>
<path d="M561.70 444.30L567.80 456.50L555.60 456.50Z" fill="#ffff00" stroke="#00ff00" stroke-width="2.3" stroke-linejoin="round"/>
<text x="590.40" y="458.1" font-size="23" fill="#000" stroke="#000" stroke-width="0.3">Redundant wells</text>
<line x1="782.20" y1="450.40" x2="830.20" y2="450.40" stroke="#00ffff" stroke-width="3" stroke-linecap="round"/>
<circle cx="806.20" cy="450.40" r="6.00" fill="none" stroke="#00ffff" stroke-width="2.3"/>
<text x="835.40" y="458.1" font-size="23" fill="#000" stroke="#000" stroke-width="0.3">New Wells</text>
</svg></body></html>
